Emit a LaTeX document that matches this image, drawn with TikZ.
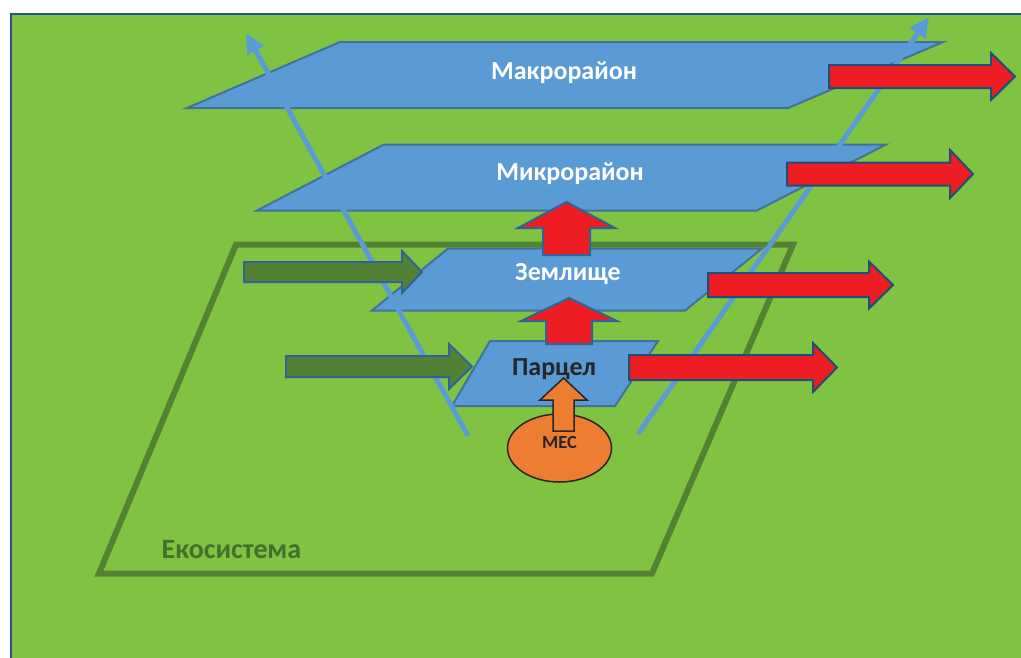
\documentclass[tikz,border=0pt]{standalone}
\usepackage{fontspec}
\setmainfont{Carlito}
\usetikzlibrary{arrows.meta,shapes.geometric}
\definecolor{bggreen}{HTML}{80C242}
\definecolor{framebl}{HTML}{2B5283}
\definecolor{ecogreen}{HTML}{548235}
\definecolor{ecotext}{HTML}{44702D}
\definecolor{planefill}{HTML}{5B9BD5}
\definecolor{planeedge}{HTML}{41719C}
\definecolor{redfill}{HTML}{EE1D23}
\definecolor{darkblue}{HTML}{1F4E79}
\definecolor{midblue}{HTML}{2E6496}
\definecolor{orangefill}{HTML}{ED7D31}
\definecolor{darktext}{HTML}{262626}
\newcommand{\RBlockArrow}[7]{%
  \draw[#1] (#2,#3-#6) -- (#4,#3-#6) -- (#4,#3-#7) -- (#5,#3) -- (#4,#3+#7) -- (#4,#3+#6) -- (#2,#3+#6) -- cycle;}
\newcommand{\UBlockArrow}[7]{%
  \draw[#1] (#2-#6,#3) -- (#2-#6,#4) -- (#2-#7,#4) -- (#2,#5) -- (#2+#7,#4) -- (#2+#6,#4) -- (#2+#6,#3) -- cycle;}
\begin{document}
\begin{tikzpicture}[x=1pt,y=-1pt,
  plane/.style={fill=planefill,draw=planeedge,line width=2pt,line join=miter},
  eco/.style={draw=ecogreen,line width=6pt,line join=miter},
  redarrow/.style={fill=redfill,draw=darkblue,line width=2pt,line join=miter},
  redup/.style={fill=redfill,draw=midblue,line width=2pt,line join=miter},
  greenarrow/.style={fill=ecogreen,draw=midblue,line width=2pt,line join=miter},
  orangearrow/.style={fill=orangefill,draw=darktext,line width=1.5pt,line join=miter},
  bline/.style={draw=planefill,line width=5pt,-{Triangle[length=20pt,width=18pt]}},
  lbl/.style={font=\fontsize{26}{30}\selectfont\bfseries,text=white,inner sep=0pt,anchor=base},
]
\useasboundingbox (0,0) rectangle (1021,657);
\clip (0,0) rectangle (1021,657);
\fill[white] (0,0) rectangle (1021,657);
\draw[fill=bggreen,draw=framebl,line width=2.5pt] (11,14) rectangle (1040,680);
% ecosystem
\draw[eco] (236,244.5) -- (793,244.5) -- (652,573.5) -- (99,573.5) -- cycle;
\node[lbl,text=ecotext,font=\fontsize{28}{32}\selectfont\bfseries] (eco) at (231.5,558) {Екосистема};
% planes
\draw[plane] (187,108) -- (340,42) -- (943,42) -- (788,108) -- cycle;
\draw[plane] (257,210.5) -- (384,144.5) -- (886,144.5) -- (757,210.5) -- cycle;
\draw[plane] (372,310.5) -- (448,248.5) -- (762,248.5) -- (685,310.5) -- cycle;
\draw[plane] (452,406) -- (490,341) -- (658,341) -- (615,406) -- cycle;
% blue lines
\coordinate (l1s) at (468,436);
\coordinate (l1e) at (246,33);
\coordinate (l2s) at (638,434);
\coordinate (l2e) at (929,17);
\draw[bline] (l1s) -- (l1e);
\draw[bline] (l2s) -- (l2e);
% MES ellipse
\node[ellipse,draw=darktext,fill=orangefill,line width=1.5pt,minimum width=104pt,minimum height=68pt,inner sep=0pt] (mesell) at (559.5,448) {};
% arrows
\UBlockArrow{orangearrow}{563.5}{431}{400}{378}{10.5}{23.5}
\UBlockArrow{redup}{566.5}{255}{228}{202}{23.5}{48.5}
\UBlockArrow{redup}{569}{344}{321}{298}{23}{48}
\RBlockArrow{redarrow}{829}{76.5}{991}{1015}{11.5}{23.5}
\RBlockArrow{redarrow}{787}{174}{950}{973}{11.5}{24}
\RBlockArrow{redarrow}{708}{285}{869}{893}{12}{23.5}
\RBlockArrow{redarrow}{629}{367.5}{813}{837}{12.5}{24.5}
\RBlockArrow{greenarrow}{244}{272}{402}{422}{10}{21}
\RBlockArrow{greenarrow}{286}{366.5}{449}{472}{10.5}{22.5}
% labels
\node[lbl] (makro) at (564,79) {Макрорайон};
\node[lbl] (mikro) at (570,180) {Микрорайон};
\node[lbl] (zeml) at (568,280) {Землище};
\node[lbl,text=darktext] (parc) at (554,375) {Парцел};
\node[lbl,text=darktext,font=\fontsize{18.5}{22}\selectfont\bfseries] (mes) at (559.5,448) {МЕС};
\end{tikzpicture}
\end{document}
